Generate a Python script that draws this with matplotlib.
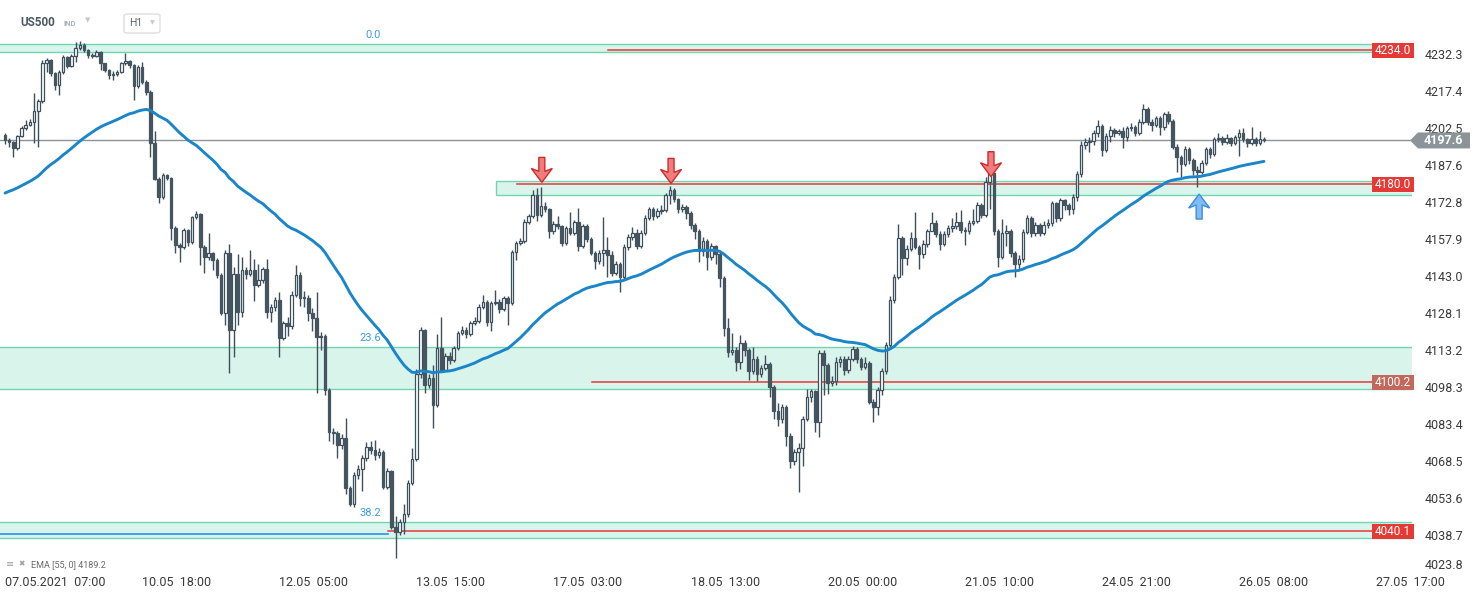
import numpy as np
import pandas as pd
import matplotlib
matplotlib.use("Agg")
import matplotlib.pyplot as plt
import matplotlib.transforms as mtrans
from matplotlib.patches import Polygon, Rectangle, FancyBboxPatch

# --- DATA: US500 H1 candles ---
first_open = 4200.0
closes = [
    4197.6, 4197.0, 4194.4, 4199.4, 4202.5, 4204.0, 4205.0, 4209.5, 4213.5, 4229.0,
    4230.0, 4224.6, 4220.0, 4225.3, 4231.3, 4227.5, 4231.6, 4234.7, 4236.0, 4234.0,
    4232.0, 4231.6, 4233.3, 4228.7, 4226.0, 4224.0, 4224.5, 4225.3, 4228.7, 4229.6,
    4228.0, 4219.5, 4227.3, 4221.3, 4217.2, 4196.5, 4182.0, 4175.0, 4183.5, 4182.3,
    4162.2, 4155.4, 4154.8, 4161.5, 4156.5, 4166.6, 4167.8, 4154.8, 4150.5, 4152.1,
    4149.5, 4143.4, 4128.2, 4152.1, 4121.2, 4143.7, 4128.5, 4145.4, 4143.7, 4145.5,
    4139.3, 4141.4, 4145.8, 4128.6, 4130.3, 4133.3, 4118.0, 4124.0, 4123.0, 4135.3,
    4143.4, 4134.2, 4134.0, 4128.2, 4126.0, 4118.5, 4118.8, 4097.0, 4080.2, 4079.8,
    4075.0, 4077.8, 4057.6, 4051.2, 4062.9, 4065.2, 4069.8, 4074.0, 4073.0, 4070.9,
    4072.0, 4058.1, 4064.5, 4042.0, 4040.0, 4044.0, 4047.0, 4059.6, 4069.2, 4103.5,
    4121.3, 4099.1, 4101.9, 4091.0, 4113.9, 4105.2, 4110.7, 4109.2, 4113.9, 4120.0,
    4121.3, 4119.5, 4124.2, 4125.0, 4130.5, 4132.6, 4124.6, 4132.0, 4132.5, 4129.6,
    4134.0, 4132.3, 4152.8, 4156.2, 4157.2, 4164.8, 4167.2, 4175.6, 4167.6, 4171.3,
    4169.8, 4161.2, 4164.0, 4163.0, 4156.4, 4162.2, 4160.5, 4164.6, 4155.1, 4163.1,
    4157.8, 4152.4, 4149.0, 4152.4, 4153.4, 4151.5, 4144.0, 4147.8, 4142.7, 4154.8,
    4158.7, 4160.4, 4155.0, 4160.4, 4166.2, 4169.8, 4167.2, 4169.0, 4169.5, 4175.5,
    4177.5, 4173.9, 4169.8, 4170.6, 4168.5, 4163.6, 4161.2, 4153.0, 4157.0, 4150.8,
    4155.0, 4152.0, 4142.0, 4121.9, 4112.5, 4113.0, 4108.5, 4116.1, 4113.0, 4104.8,
    4109.5, 4103.5, 4106.0, 4107.5, 4098.1, 4088.7, 4085.2, 4090.0, 4078.5, 4068.5,
    4072.0, 4073.5, 4085.2, 4094.4, 4096.5, 4084.0, 4112.0, 4107.0, 4099.8, 4100.5,
    4108.5, 4109.5, 4105.0, 4109.5, 4113.5, 4109.5, 4106.2, 4108.0, 4092.3, 4090.1,
    4097.0, 4104.8, 4115.3, 4133.3, 4142.4, 4158.2, 4150.1, 4153.8, 4158.2, 4154.8,
    4151.8, 4156.0, 4161.3, 4164.4, 4160.0, 4156.0, 4159.8, 4162.2, 4163.2, 4164.8,
    4161.6, 4161.0, 4164.4, 4165.0, 4171.6, 4167.6, 4180.9, 4184.3, 4161.2, 4150.8,
    4160.2, 4161.0, 4152.4, 4148.0, 4150.0, 4160.8, 4166.2, 4160.4, 4163.5, 4160.5,
    4163.5, 4164.2, 4172.3, 4166.2, 4173.6, 4171.5, 4170.0, 4175.0, 4184.1, 4195.8,
    4196.9, 4197.5, 4200.7, 4203.4, 4193.7, 4199.4, 4202.0, 4200.5, 4201.5, 4199.0,
    4202.5, 4203.2, 4200.5, 4205.1, 4210.1, 4205.0, 4204.0, 4206.5, 4203.2, 4208.2,
    4205.5, 4195.1, 4190.8, 4188.0, 4194.0, 4189.7, 4185.7, 4185.0, 4188.6, 4194.0,
    4192.0, 4198.0, 4198.6, 4196.8, 4198.4, 4196.7, 4198.8, 4200.5, 4198.0, 4196.5,
    4198.0, 4196.7, 4198.2, 4197.6,
]
highs = [
    4200.8, 4198.6, 4197.4, 4200.0, 4203.6, 4206.0, 4206.4, 4216.7, 4214.5, 4230.2,
    4231.0, 4230.4, 4225.0, 4226.0, 4232.0, 4231.5, 4232.4, 4237.4, 4237.6, 4237.0,
    4234.4, 4232.8, 4234.2, 4233.6, 4229.0, 4226.4, 4225.6, 4226.0, 4229.4, 4232.7,
    4230.2, 4228.6, 4228.0, 4229.3, 4221.8, 4218.0, 4201.4, 4183.0, 4184.6, 4184.2,
    4183.0, 4163.0, 4156.2, 4162.4, 4162.0, 4167.2, 4169.1, 4168.4, 4155.4, 4160.5,
    4152.8, 4150.2, 4144.0, 4153.4, 4156.0, 4146.5, 4152.0, 4150.8, 4146.6, 4153.5,
    4150.0, 4148.0, 4146.6, 4149.8, 4131.8, 4134.6, 4136.7, 4125.0, 4126.6, 4137.0,
    4147.4, 4144.4, 4136.8, 4135.2, 4130.0, 4136.7, 4120.4, 4119.6, 4098.0, 4081.6,
    4080.6, 4079.2, 4085.6, 4058.2, 4064.0, 4066.8, 4071.0, 4076.0, 4076.6, 4076.8,
    4073.6, 4073.0, 4065.8, 4065.0, 4046.4, 4045.2, 4051.2, 4060.8, 4073.8, 4105.6,
    4122.6, 4121.8, 4103.6, 4107.0, 4119.8, 4126.4, 4112.0, 4112.2, 4114.8, 4121.0,
    4123.0, 4122.4, 4125.0, 4126.6, 4131.6, 4135.4, 4133.4, 4133.0, 4137.4, 4133.6,
    4135.0, 4134.8, 4153.6, 4157.2, 4158.2, 4165.8, 4168.0, 4177.7, 4178.6, 4179.0,
    4173.0, 4170.2, 4165.0, 4167.0, 4163.6, 4163.0, 4168.6, 4165.6, 4170.4, 4164.0,
    4164.0, 4158.6, 4153.0, 4153.6, 4166.6, 4158.6, 4153.0, 4149.0, 4148.6, 4156.0,
    4160.0, 4162.6, 4161.8, 4161.6, 4167.4, 4170.8, 4170.6, 4170.2, 4171.6, 4176.4,
    4179.2, 4178.4, 4174.6, 4171.8, 4171.4, 4169.0, 4164.4, 4161.8, 4158.6, 4157.8,
    4156.2, 4155.6, 4153.0, 4143.0, 4126.0, 4120.2, 4114.4, 4119.4, 4117.0, 4113.8,
    4114.4, 4110.6, 4107.2, 4111.2, 4108.4, 4099.0, 4092.0, 4091.2, 4090.8, 4079.6,
    4073.2, 4075.6, 4086.4, 4097.4, 4097.6, 4097.0, 4113.0, 4113.2, 4108.0, 4102.6,
    4110.4, 4110.8, 4110.6, 4110.6, 4114.6, 4114.2, 4110.2, 4110.4, 4108.8, 4093.4,
    4098.2, 4106.0, 4116.4, 4134.8, 4143.6, 4164.0, 4159.0, 4155.6, 4160.6, 4168.9,
    4155.6, 4157.4, 4162.0, 4168.6, 4165.4, 4161.0, 4161.2, 4163.4, 4166.4, 4168.6,
    4169.6, 4162.6, 4165.4, 4170.0, 4172.6, 4172.4, 4182.8, 4185.6, 4184.8, 4162.0,
    4166.0, 4163.6, 4161.8, 4153.2, 4151.6, 4161.8, 4167.4, 4167.0, 4164.6, 4164.2,
    4165.0, 4165.8, 4173.4, 4173.0, 4174.6, 4174.2, 4172.4, 4176.2, 4185.4, 4197.2,
    4198.4, 4198.8, 4202.0, 4206.0, 4204.4, 4200.6, 4203.4, 4202.6, 4202.4, 4203.0,
    4203.6, 4204.6, 4204.0, 4206.2, 4212.3, 4211.0, 4206.4, 4207.6, 4207.4, 4209.0,
    4209.4, 4206.2, 4196.0, 4191.6, 4195.2, 4195.0, 4190.4, 4187.4, 4189.8, 4195.0,
    4194.8, 4199.0, 4200.6, 4199.4, 4200.4, 4199.0, 4200.0, 4202.1, 4202.6, 4198.6,
    4203.0, 4198.8, 4201.6, 4199.0,
]
lows = [
    4196.0, 4195.0, 4191.0, 4193.8, 4198.8, 4201.8, 4203.4, 4196.6, 4195.0, 4212.8,
    4225.0, 4223.5, 4218.0, 4215.9, 4224.5, 4226.8, 4227.0, 4229.3, 4234.0, 4233.2,
    4231.0, 4230.8, 4231.2, 4226.0, 4225.2, 4222.2, 4222.0, 4223.6, 4224.8, 4228.0,
    4226.6, 4213.9, 4218.6, 4220.4, 4216.0, 4190.9, 4181.6, 4172.3, 4174.2, 4181.6,
    4157.5, 4152.1, 4148.7, 4154.0, 4155.0, 4155.8, 4166.0, 4147.4, 4144.0, 4149.6,
    4145.4, 4142.0, 4127.3, 4123.3, 4103.8, 4110.5, 4123.3, 4126.6, 4141.8, 4143.0,
    4133.0, 4138.6, 4140.2, 4126.0, 4124.6, 4129.0, 4110.5, 4117.2, 4119.0, 4121.6,
    4134.6, 4131.0, 4130.6, 4125.0, 4121.0, 4095.7, 4113.0, 4095.2, 4076.4, 4075.4,
    4069.7, 4073.4, 4055.0, 4050.3, 4050.0, 4061.2, 4056.3, 4068.6, 4071.4, 4069.0,
    4069.6, 4057.2, 4057.0, 4041.2, 4029.4, 4038.6, 4039.0, 4046.0, 4058.6, 4068.4,
    4101.8, 4095.8, 4098.0, 4081.6, 4090.2, 4104.2, 4104.6, 4107.6, 4108.4, 4113.0,
    4119.4, 4118.0, 4118.6, 4123.2, 4124.2, 4129.6, 4123.0, 4120.7, 4131.2, 4128.2,
    4128.8, 4123.3, 4131.2, 4149.4, 4155.4, 4156.4, 4163.8, 4166.2, 4165.0, 4166.8,
    4168.6, 4158.4, 4160.0, 4161.8, 4155.0, 4155.4, 4159.6, 4159.4, 4153.0, 4154.4,
    4156.6, 4151.4, 4146.0, 4148.0, 4147.0, 4142.6, 4143.0, 4143.2, 4136.7, 4141.8,
    4153.6, 4157.6, 4154.0, 4154.4, 4159.6, 4165.4, 4165.6, 4166.4, 4167.8, 4168.6,
    4172.0, 4173.0, 4168.4, 4168.8, 4166.0, 4161.8, 4158.0, 4148.6, 4151.2, 4145.4,
    4149.6, 4148.0, 4138.4, 4118.8, 4110.4, 4111.0, 4104.6, 4105.6, 4110.6, 4101.2,
    4103.6, 4100.6, 4102.4, 4105.0, 4094.4, 4085.4, 4082.4, 4083.6, 4074.4, 4065.6,
    4067.0, 4056.1, 4066.4, 4084.6, 4092.4, 4080.0, 4078.2, 4095.0, 4095.6, 4098.6,
    4099.2, 4106.4, 4103.2, 4104.0, 4108.6, 4108.0, 4105.0, 4105.4, 4091.2, 4084.3,
    4087.0, 4095.0, 4103.6, 4113.8, 4132.0, 4141.6, 4143.2, 4147.4, 4153.0, 4153.8,
    4146.0, 4150.4, 4154.8, 4161.0, 4158.6, 4153.6, 4155.2, 4158.6, 4160.8, 4162.0,
    4160.2, 4155.5, 4159.8, 4163.4, 4164.2, 4166.4, 4166.8, 4170.0, 4159.6, 4146.7,
    4149.8, 4155.0, 4150.6, 4142.7, 4145.2, 4148.6, 4159.8, 4158.6, 4159.0, 4159.0,
    4159.6, 4162.4, 4163.2, 4164.6, 4165.2, 4169.6, 4167.6, 4168.0, 4173.4, 4183.0,
    4194.2, 4193.0, 4195.6, 4199.0, 4191.4, 4192.8, 4197.0, 4199.0, 4199.6, 4194.4,
    4197.4, 4201.4, 4199.4, 4199.8, 4204.4, 4203.8, 4201.6, 4203.0, 4200.0, 4202.0,
    4204.2, 4194.0, 4185.0, 4183.0, 4187.2, 4188.2, 4183.6, 4179.0, 4184.0, 4187.6,
    4190.6, 4191.2, 4196.8, 4195.8, 4196.0, 4195.4, 4195.6, 4191.3, 4196.8, 4195.0,
    4195.6, 4195.4, 4195.8, 4196.8,
]
ema_seed = 4175.6          # EMA(55) value just before the first candle
ema_span = 55
last_price = 4197.6

tick_idx = [0, 33, 66, 99, 132, 165, 198, 231, 264, 297, 330]
tick_labels = ["07.05.2021  07:00", "10.05  18:00", "12.05  05:00", "13.05  15:00",
               "17.05  03:00", "18.05  13:00", "20.05  00:00", "21.05  10:00",
               "24.05  21:00", "26.05  08:00", "27.05  17:00"]
price_ticks = [4232.3, 4217.4, 4202.5, 4187.6, 4172.8, 4157.9, 4143.0, 4128.1,
               4113.2, 4098.3, 4083.4, 4068.5, 4053.6, 4038.7]
bottom_tick = 4023.8     # drawn a little higher, as the platform clamps it

# support / resistance zones (top, bottom, first candle) and red levels
zone_top = [4236.4, 4181.3, 4114.4, 4043.9]
zone_bot = [4233.3, 4175.6, 4097.5, 4037.3]
zone_start = [None, 118.2, None, None]
levels = [4234.0, 4180.0, 4100.2, 4040.1]
level_start = [145.1, 123.2, 141.3, 92.2]
level_box = ["#e53935", "#e53935", "#c4675d", "#e53935"]
fib_names = ["0.0", "23.6", "38.2"]
fib_prices = [4236.4, 4114.4, 4043.9]

# signal arrows: candle index, price of the tip
down_arrows = [(129.2, 4180.7), (160.3, 4180.3), (237.3, 4183.0)]
up_arrows = [(287.4, 4176.0)]

# --- FIGURE ---
plt.rcParams['font.family'] = ['Roboto', 'DejaVu Sans']
W, H = 1482, 598
fig = plt.figure(figsize=(W / 100, H / 100), dpi=100)
fig.patch.set_facecolor("white")
ax = fig.add_axes([0, 1 - 572 / H, 1412 / W, 572 / H])

dark = "#3e505c"
n = len(closes)
idx = np.arange(n)
c = np.array(closes)
o = np.array([first_open] + closes[:-1])
bull = c >= o
body_lo = np.minimum(o, c)
body_h = np.maximum(np.abs(c - o), 0.4)

x_min, x_max = -5 / 4.155, 1407 / 4.155
ax.set_xlim(x_min, x_max)
ax.set_ylim(4023.7, 4254.2)

# zones
for top, bot, start in zip(zone_top, zone_bot, zone_start):
    x0 = x_min - 2 if start is None else start
    ax.add_patch(Rectangle((x0, bot), x_max + 2 - x0, top - bot, facecolor="#d9f4eb",
                           edgecolor="#72d4b0", lw=1, zorder=1))

# red levels and their labels
for lv, st, col in zip(levels, level_start, level_box):
    ax.plot([st, 329.0], [lv, lv], color="#e3393a", lw=1.1, zorder=2)
    tr = mtrans.Affine2D() + mtrans.ScaledTranslation(1.0, lv, ax.get_yaxis_transform())
    ax.add_patch(Rectangle((-40, -7.5), 42, 15, transform=tr, facecolor=col,
                           edgecolor="none", zorder=8, clip_on=False))
    ax.text(-19, 0, f"{lv:.1f}", transform=tr, ha="center", va="center",
            color="white", fontsize=8.5, zorder=9)

# blue fib line on the left of the bottom zone
ax.plot([x_min, 92.2], [4039.1, 4039.1], color="#2196f3", lw=1.2, zorder=2)
for name, pr in zip(fib_names, fib_prices):
    ax.text(90.5, pr + 1.5, name, ha="right", va="bottom", color="#3d9be9",
            fontsize=8, zorder=6)

# last price line
ax.axhline(last_price, color="#8b9398", lw=1, zorder=2)

# candles
ax.vlines(idx, lows, highs, color=dark, lw=1, zorder=3)
ax.bar(idx[bull], body_h[bull], bottom=body_lo[bull], width=0.62, color="white",
       edgecolor=dark, linewidth=0.9, zorder=4)
ax.bar(idx[~bull], body_h[~bull], bottom=body_lo[~bull], width=0.62, color="#44555f",
       edgecolor="#44555f", linewidth=0.9, zorder=4)

# EMA 55
ema = pd.Series([ema_seed] + closes).ewm(span=ema_span, adjust=False).mean().iloc[1:].to_numpy()
ax.plot(idx, ema, color="#1a86c9", lw=2.1, zorder=5, solid_capstyle="round")

# arrows (shape in pixels around the tip)
shape_down = [(0, 0), (10.5, 14), (3, 11), (3, 25), (-3, 25), (-3, 11), (-10.5, 14)]
for xi, pr in down_arrows:
    tr = mtrans.Affine2D() + mtrans.ScaledTranslation(xi, pr, ax.transData)
    ax.add_patch(Polygon(shape_down, closed=True, transform=tr, facecolor="#f07d7d",
                         edgecolor="#d12a2a", lw=1, zorder=7))
for xi, pr in up_arrows:
    tr = mtrans.Affine2D() + mtrans.ScaledTranslation(xi, pr, ax.transData)
    ax.add_patch(Polygon([(x, -y) for x, y in shape_down], closed=True, transform=tr,
                         facecolor="#80bcf3", edgecolor="#3a8ee2", lw=1, zorder=7))

# last price tag
tr = mtrans.Affine2D() + mtrans.ScaledTranslation(1.0, last_price, ax.get_yaxis_transform())
ax.add_patch(Polygon([(-2, 0), (6, 8), (58, 8), (58, -8), (6, -8)], closed=True,
                     transform=tr, facecolor="#8b9599", edgecolor="none", zorder=8,
                     clip_on=False))
ax.text(31, 0, f"{last_price:.1f}", transform=tr, ha="center", va="center",
        color="white", fontsize=9, fontweight="bold", zorder=9)

# axes styling
for sp in ax.spines.values():
    sp.set_visible(False)
ax.yaxis.tick_right()
ax.set_yticks(price_ticks, [f"{p:.1f}" for p in price_ticks])
ax.tick_params(axis="y", length=0, pad=9, labelsize=9, labelcolor="#3a3a3a")
tr = mtrans.Affine2D() + mtrans.ScaledTranslation(1.0, bottom_tick, ax.get_yaxis_transform())
ax.text(12.5, 6, f"{bottom_tick:.1f}", transform=tr, ha="left", va="center",
        fontsize=9, color="#3a3a3a", clip_on=False)
ax.set_xticks(tick_idx, tick_labels)
ax.tick_params(axis="x", length=0, pad=3, labelsize=9, labelcolor="#3a3a3a")
for lbl in ax.get_xticklabels():
    lbl.set_ha("left")
    lbl.set_fontfamily(["Liberation Sans Narrow", "Roboto", "DejaVu Sans"])

# header
fig.text(20 / W, 1 - 23 / H, "US500", fontsize=8.5, fontweight="bold", color="#4c5a65",
         va="center")
fig.text(64 / W, 1 - 24 / H, "IND", fontsize=5.5, fontweight="bold", color="#a9b1b7",
         va="center")
fig.text(88 / W, 1 - 21 / H, "\u25bc", fontsize=5, color="#c3c9cc", va="center",
         ha="center")
fig.patches.append(FancyBboxPatch((124 / W, 1 - 33 / H), 36 / W, 19 / H,
                                  boxstyle="round,pad=0,rounding_size=0.003",
                                  transform=fig.transFigure, facecolor="white",
                                  edgecolor="#dedede", lw=1))
fig.text(129 / W, 1 - 23.5 / H, "H1", fontsize=7.5, color="#5a6670", va="center")
fig.text(152 / W, 1 - 23 / H, "\u25bc", fontsize=4.5, color="#c3c9cc", va="center",
         ha="center")

# indicator legend
fig.text(6 / W, 1 - 564 / H, "\u2261", fontsize=7, color="#9aa3a8", va="center")
fig.text(18 / W, 1 - 564 / H, "\u2716", fontsize=5.5, color="#9aa3a8", va="center")
fig.text(31 / W, 1 - 565 / H, "EMA [55, 0] 4189.2", fontsize=6.5, color="#6a6a6a",
         va="center")

fig.savefig("out.png", dpi=100, facecolor="white")
